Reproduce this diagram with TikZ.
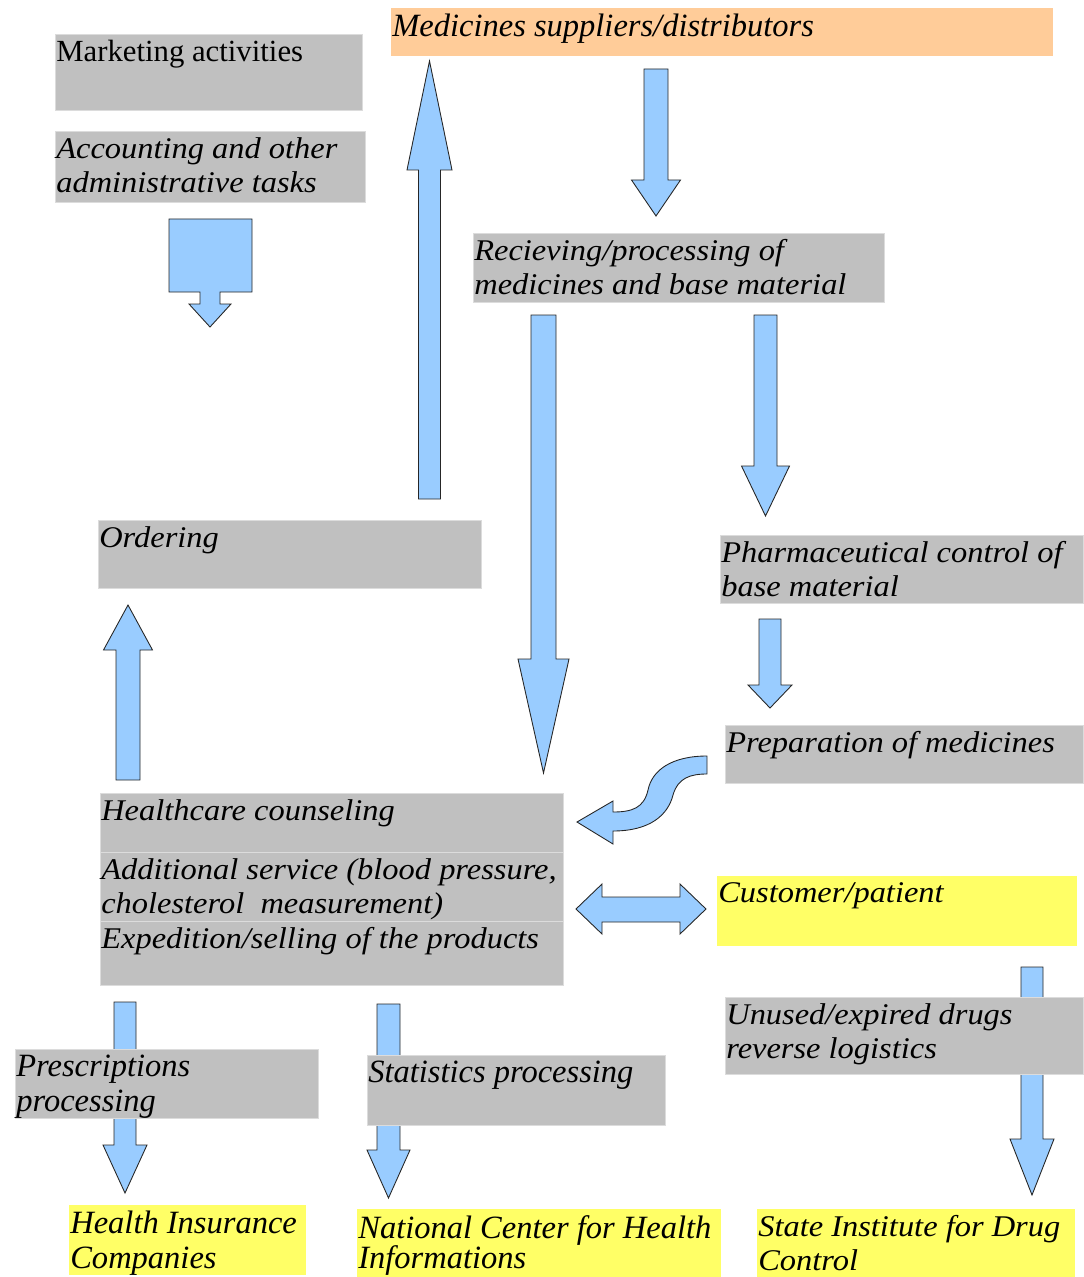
\documentclass[tikz,border=0pt]{standalone}
\usepackage{fontspec}
\setmainfont{Liberation Serif}
\newfontfamily\widefont[FakeStretch=1.08]{Liberation Serif}
\usetikzlibrary{calc}
\definecolor{boxgray}{HTML}{C0C0C0}
\definecolor{supplyorange}{HTML}{FFCC99}
\definecolor{targetyellow}{HTML}{FFFF66}
\definecolor{arrowblue}{HTML}{99CCFF}
\newdimen\pxu \pxu=0.02cm
\newdimen\padX \padX=0.5pt
\newdimen\padY \padY=3.4pt
\newcommand{\widetext}{\widefont\fontsize{17.1pt}{19.35pt}\selectfont}
\newcommand{\narrowtext}{\fontsize{18.5pt}{19.7pt}\selectfont}
\newcommand{\plaintext}{\fontsize{17.5pt}{19.35pt}\selectfont}
% box contents: width and height in pixels of the reference
\newcommand{\boxtext}[3]{\parbox[t][\dimexpr#2\pxu-2\padY\relax][t]{\dimexpr#1\pxu-2\padX\relax}{\raggedright #3}}
% vertical block arrow: x, tail y, tip y, shaft half width, head half width, head base y
\newcommand{\vblockarrow}[6]{%
  \draw[blockarrow] (#1-#4,#2) -- (#1+#4,#2) -- (#1+#4,#6) -- (#1+#5,#6)
    -- (#1,#3) -- (#1-#5,#6) -- (#1-#4,#6) -- cycle;}
\tikzset{
  procbox/.style={
    rectangle,
    fill=boxgray,
    draw=boxgray!55!white,
    line width=0.5pt,
    anchor=north west,
    inner xsep=\padX,
    inner ysep=\padY,
    font=\widetext\itshape
  },
  narrowbox/.style={
    procbox,
    font=\narrowtext\itshape
  },
  supplybox/.style={
    narrowbox,
    fill=supplyorange,
    draw=none
  },
  targetbox/.style={
    procbox,
    fill=targetyellow,
    draw=none
  },
  blockarrow/.style={
    fill=arrowblue,
    draw=black!85,
    line width=0.5pt,
    line join=miter
  }
}

\begin{document}
\begin{tikzpicture}[x=0.02cm, y=-0.02cm]
  \useasboundingbox (0,0) rectangle (1083,1277);

  % Flow arrows (behind the boxes)
  \vblockarrow{429.5}{499}{61}{11}{22.5}{170}
  \vblockarrow{656}{69}{216}{12}{24.5}{180}
  \vblockarrow{543.5}{315}{773}{12.5}{25.5}{659}
  \vblockarrow{765.5}{315}{516}{11.5}{24}{466}
  \vblockarrow{770}{619}{708}{11}{22}{685}
  \vblockarrow{128}{780}{605}{12}{24.5}{650}
  \vblockarrow{125}{1002}{1193}{11}{22}{1145}
  \vblockarrow{388.5}{1004}{1198}{11.5}{21.5}{1150}
  \vblockarrow{1032}{967}{1195}{11}{22}{1139}

  % Administrative block arrow
  \draw[blockarrow] (169,219) -- (252,219) -- (252,292) -- (220,292) -- (220,304)
    -- (231,304) -- (210,327) -- (189,304) -- (200,304) -- (200,292) -- (169,292) -- cycle;

  % Preparation to counseling (S-shaped)
  \draw[blockarrow] (707,756) .. controls (672,756) and (652,770) .. (648,790)
    .. controls (644,808) and (632,812) .. (613,812) -- (613,801) -- (577,822)
    -- (613,844) -- (613,831) .. controls (650,831) and (668,815) .. (673,795)
    .. controls (678,778) and (690,774) .. (707,774) -- cycle;

  % Pharmacy and customer (both ways)
  \draw[blockarrow] (576,909) -- (602,884) -- (602,897) -- (680,897) -- (680,884)
    -- (706,909) -- (680,934) -- (680,922) -- (602,922) -- (602,934) -- cycle;

  % Pharmacy tasks
  \node[procbox, font=\plaintext] (mkt) at (55,34) {\boxtext{307}{76}{Marketing activities}};
  \node[procbox] (acct) at (55,131) {\boxtext{310}{71}{Accounting and other\\administrative tasks}};
  \node[procbox] (recv) at (473,233) {\boxtext{411}{69}{Recieving/processing of\\medicines and base material}};
  \node[procbox] (order) at (98,520) {\boxtext{383}{68}{Ordering}};
  \node[procbox] (pharm) at (720,535) {\boxtext{363}{68}{Pharmaceutical control of\\base material}};
  \node[procbox] (prep) at (725,725) {\boxtext{358}{58}{Preparation of medicines}};
  \node[procbox] (health) at (100,793) {\boxtext{463}{59}{Healthcare counseling}};
  \node[procbox] (addserv) at (100,852) {\boxtext{463}{69}{\mbox{Additional service (blood pressure,}\\cholesterol\ \ measurement)}};
  \node[procbox] (exped) at (100,921) {\boxtext{463}{64}{Expedition/selling of the products}};
  \node[procbox] (unused) at (725,997) {\boxtext{358}{77}{Unused/expired drugs\\reverse logistics}};
  \node[narrowbox] (presc) at (15,1049) {\boxtext{303}{69}{Prescriptions\\processing}};
  \node[narrowbox] (stats) at (367,1055) {\boxtext{298}{70}{Statistics processing}};

  % Outside partners
  \node[supplybox] (supp) at (391,8) {\boxtext{662}{48}{Medicines suppliers/distributors}};
  \node[targetbox] (cust) at (717,876) {\boxtext{360}{70}{Customer/patient}};
  \node[targetbox, font=\narrowtext\itshape] (insur) at (69,1205) {\boxtext{237}{70}{\mbox{Health Insurance}\\Companies}};
  \node[targetbox, font=\narrowtext\itshape] (natc) at (357,1209) {\boxtext{364}{68}{\mbox{National Center for Health}\\[-2.5pt]Informations}};
  \node[targetbox] (sidc) at (757,1209) {\boxtext{318}{68}{State Institute for Drug\\Control}};

\end{tikzpicture}
\end{document}
